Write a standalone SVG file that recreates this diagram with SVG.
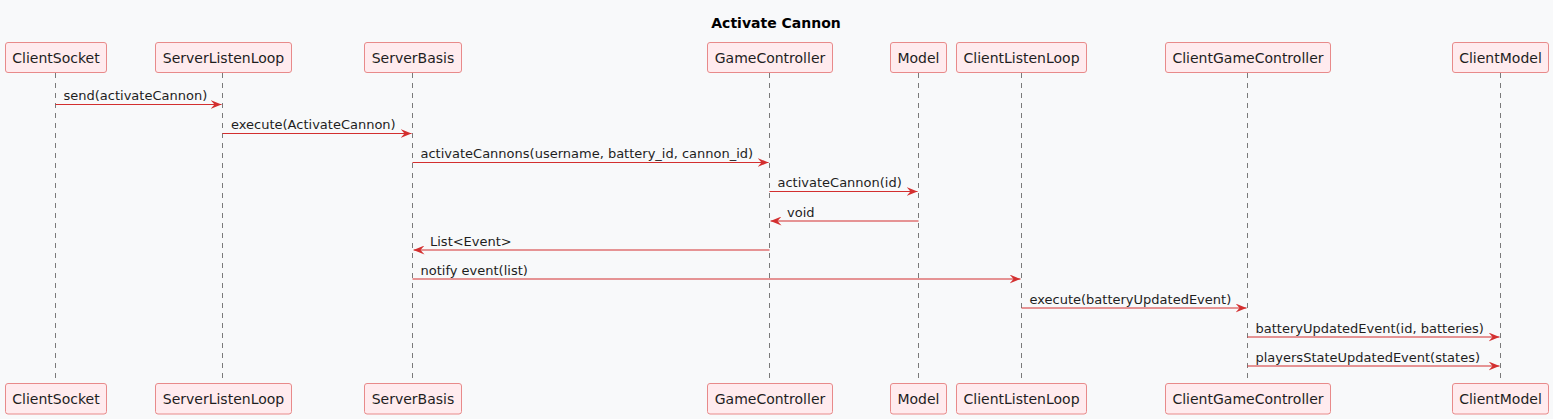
<svg xmlns="http://www.w3.org/2000/svg" width="1553" height="419" viewBox="0 0 1553 419">
<defs>
<style>
.bg{fill:#F8F9FA}
.box{fill:#FFEBEE;stroke:#E88A8A;stroke-width:1}
.pt{font-family:"DejaVu Sans",sans-serif;font-size:14px;fill:#1E1E1E;text-anchor:middle}
.life{stroke:#7A7A7A;stroke-width:1;stroke-dasharray:5 5;fill:none}
.msg{stroke:#D32F2F;stroke-width:1;fill:none}
.ml{font-family:"DejaVu Sans",sans-serif;font-size:13px;fill:#1E1E1E}
.title{font-family:"DejaVu Sans",sans-serif;font-size:14px;font-weight:bold;fill:#000;text-anchor:middle}
</style>
<marker id="ah" viewBox="0 0 11 9" refX="11" refY="4.5" markerWidth="11" markerHeight="9" markerUnits="userSpaceOnUse" orient="auto">
<polygon points="11,4.5 0,0 4,4.5 0,9" fill="#D32F2F"/>
</marker>
</defs>
<rect class="bg" x="0" y="0" width="1553" height="419"/>
<text class="title" x="776" y="28">Activate Cannon</text>

<g id="lifelines">
<line class="life" x1="55.5" y1="73" x2="55.5" y2="383"/>
<line class="life" x1="222.5" y1="73" x2="222.5" y2="383"/>
<line class="life" x1="412.5" y1="73" x2="412.5" y2="383"/>
<line class="life" x1="769.5" y1="73" x2="769.5" y2="383"/>
<line class="life" x1="918.5" y1="73" x2="918.5" y2="383"/>
<line class="life" x1="1021.5" y1="73" x2="1021.5" y2="383"/>
<line class="life" x1="1247.5" y1="73" x2="1247.5" y2="383"/>
<line class="life" x1="1500.5" y1="73" x2="1500.5" y2="383"/>
</g>

<g id="ClientSocket">
<rect class="box" x="5.5" y="42.5" width="101" height="30" rx="2.5"/>
<text class="pt" x="56" y="62.5">ClientSocket</text>
<rect class="box" x="5.5" y="383.5" width="101" height="30.5" rx="2.5"/>
<text class="pt" x="56" y="404">ClientSocket</text>
</g>
<g id="ServerListenLoop">
<rect class="box" x="155.5" y="42.5" width="136" height="30" rx="2.5"/>
<text class="pt" x="223.5" y="62.5">ServerListenLoop</text>
<rect class="box" x="155.5" y="383.5" width="136" height="30.5" rx="2.5"/>
<text class="pt" x="223.5" y="404">ServerListenLoop</text>
</g>
<g id="ServerBasis">
<rect class="box" x="364.5" y="42.5" width="97" height="30" rx="2.5"/>
<text class="pt" x="413" y="62.5">ServerBasis</text>
<rect class="box" x="364.5" y="383.5" width="97" height="30.5" rx="2.5"/>
<text class="pt" x="413" y="404">ServerBasis</text>
</g>
<g id="GameController">
<rect class="box" x="707.5" y="42.5" width="125" height="30" rx="2.5"/>
<text class="pt" x="770" y="62.5">GameController</text>
<rect class="box" x="707.5" y="383.5" width="125" height="30.5" rx="2.5"/>
<text class="pt" x="770" y="404">GameController</text>
</g>
<g id="Model">
<rect class="box" x="890.5" y="42.5" width="56" height="30" rx="2.5"/>
<text class="pt" x="918.5" y="62.5">Model</text>
<rect class="box" x="890.5" y="383.5" width="56" height="30.5" rx="2.5"/>
<text class="pt" x="918.5" y="404">Model</text>
</g>
<g id="ClientListenLoop">
<rect class="box" x="956.5" y="42.5" width="130" height="30" rx="2.5"/>
<text class="pt" x="1021.5" y="62.5">ClientListenLoop</text>
<rect class="box" x="956.5" y="383.5" width="130" height="30.5" rx="2.5"/>
<text class="pt" x="1021.5" y="404">ClientListenLoop</text>
</g>
<g id="ClientGameController">
<rect class="box" x="1165.5" y="42.5" width="165" height="30" rx="2.5"/>
<text class="pt" x="1248" y="62.5">ClientGameController</text>
<rect class="box" x="1165.5" y="383.5" width="165" height="30.5" rx="2.5"/>
<text class="pt" x="1248" y="404">ClientGameController</text>
</g>
<g id="ClientModel">
<rect class="box" x="1452.5" y="42.5" width="96" height="30" rx="2.5"/>
<text class="pt" x="1500.5" y="62.5">ClientModel</text>
<rect class="box" x="1452.5" y="383.5" width="96" height="30.5" rx="2.5"/>
<text class="pt" x="1500.5" y="404">ClientModel</text>
</g>

<g id="connectors">
<line class="msg" x1="55.5" y1="104.5" x2="221.5" y2="104.5" marker-end="url(#ah)"/>
<text class="ml" x="63.5" y="100">send(activateCannon)</text>
<line class="msg" x1="222.5" y1="133.5" x2="411.5" y2="133.5" marker-end="url(#ah)"/>
<text class="ml" x="231" y="129">execute(ActivateCannon)</text>
<line class="msg" x1="412.5" y1="162.5" x2="768.5" y2="162.5" marker-end="url(#ah)"/>
<text class="ml" x="420.5" y="158">activateCannons(username, battery_id, cannon_id)</text>
<line class="msg" x1="769.5" y1="191.5" x2="917.5" y2="191.5" marker-end="url(#ah)"/>
<text class="ml" x="777.5" y="187">activateCannon(id)</text>
<line class="msg" x1="918.5" y1="221" x2="770.5" y2="221" marker-end="url(#ah)"/>
<text class="ml" x="787" y="216.5">void</text>
<line class="msg" x1="769.5" y1="250" x2="413.5" y2="250" marker-end="url(#ah)"/>
<text class="ml" x="430" y="245.5">List&lt;Event&gt;</text>
<line class="msg" x1="412.5" y1="279" x2="1020.5" y2="279" marker-end="url(#ah)"/>
<text class="ml" x="420.5" y="274.5">notify event(list)</text>
<line class="msg" x1="1021.5" y1="308" x2="1246.5" y2="308" marker-end="url(#ah)"/>
<text class="ml" x="1029.5" y="303.5">execute(batteryUpdatedEvent)</text>
<line class="msg" x1="1247.5" y1="337" x2="1499.5" y2="337" marker-end="url(#ah)"/>
<text class="ml" x="1255.5" y="332.5">batteryUpdatedEvent(id, batteries)</text>
<line class="msg" x1="1247.5" y1="366" x2="1499.5" y2="366" marker-end="url(#ah)"/>
<text class="ml" x="1255.5" y="361.5">playersStateUpdatedEvent(states)</text>
</g>
</svg>
